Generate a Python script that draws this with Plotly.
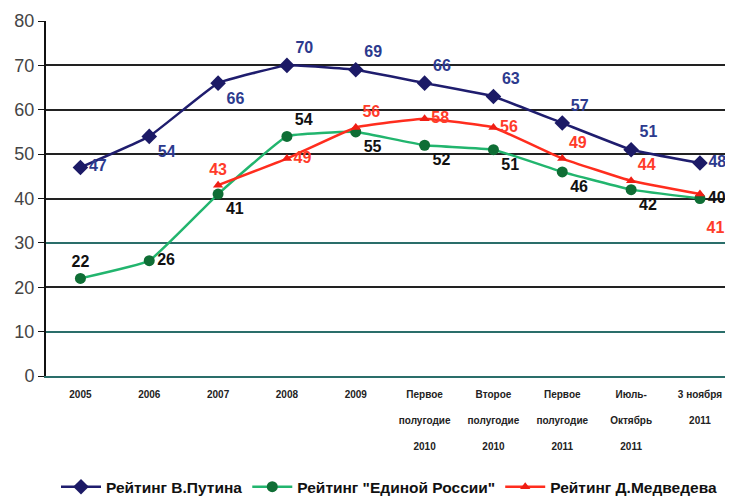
import plotly.graph_objects as go

# categories (x axis labels, multi-line ones split with spacer lines)
categories = ["2005", "2006", "2007", "2008", "2009",
              "Первое полугодие 2010", "Второе полугодие 2010",
              "Первое полугодие 2011", "Июль- Октябрь 2011", "3 ноября 2011"]
tick_labels = ["2005", "2006", "2007", "2008", "2009",
               "Первое<br><br>полугодие<br><br>2010",
               "Второе<br><br>полугодие<br><br>2010",
               "Первое<br><br>полугодие<br><br>2011",
               "Июль-<br><br>Октябрь<br><br>2011",
               "3 ноября<br><br>2011"]

putin = [47, 54, 66, 70, 69, 66, 63, 57, 51, 48]
united_russia = [22, 26, 41, 54, 55, 52, 51, 46, 42, 40]
medvedev_cats = categories[2:]
medvedev = [43, 49, 56, 58, 56, 49, 44, 41]

y_ticks = [0, 10, 20, 30, 40, 50, 60, 70, 80]
dark_grid = [20, 40, 50, 60, 70]
teal_grid = [10, 30]

# label placement per point
putin_pos = ["middle right", "bottom right", "bottom right", "top right", "top right",
             "top right", "top right", "top right", "top right", "middle right"]
ur_pos = ["top center", "middle right", "bottom right", "top right", "bottom right",
          "bottom right", "bottom right", "bottom right", "bottom right", "middle right"]
med_pos = ["top center", "middle right", "top right", "middle right", "middle right",
           "top right", "top right", "bottom right"]

label_font = dict(family="Liberation Sans, Arial", size=16)

med_text = [f"<b>{v}</b>" for v in medvedev]
med_text[-1] = "<br>" + med_text[-1]  # push last label below the "40"

fig = go.Figure()

# empty traces so the two overlay axes (used only for gridline colours) get drawn
fig.add_trace(go.Scatter(x=[], y=[], yaxis="y2", showlegend=False, hoverinfo="skip"))
fig.add_trace(go.Scatter(x=[], y=[], yaxis="y3", showlegend=False, hoverinfo="skip"))

fig.add_trace(go.Scatter(
    x=categories, y=putin, name="<b>Рейтинг В.Путина</b>",
    mode="lines+markers+text", line=dict(color="#1f1d6e", width=2.5, shape="spline", smoothing=0.3),
    marker=dict(symbol="diamond", size=12, color="#1c1a66"),
    text=[f"<b>{v}</b>" for v in putin], textposition=putin_pos,
    textfont=dict(label_font, color="#2c3a8e"), cliponaxis=False,
))
fig.add_trace(go.Scatter(
    x=categories, y=united_russia, name='<b>Рейтинг "Единой России"</b>',
    mode="lines+markers+text", line=dict(color="#22b56e", width=2.5, shape="spline", smoothing=0.3),
    marker=dict(symbol="circle", size=11, color="#0f6e35"),
    text=[f"<b>{v}</b>" for v in united_russia], textposition=ur_pos,
    textfont=dict(label_font, color="#111111"), cliponaxis=False,
))
fig.add_trace(go.Scatter(
    x=medvedev_cats, y=medvedev, name="<b>Рейтинг Д.Медведева</b>",
    mode="lines+markers+text", line=dict(color="#ff2d1e", width=2.5, shape="spline", smoothing=0.3),
    marker=dict(symbol="triangle-up", size=9, color="#f01e14"),
    text=med_text, textposition=med_pos,
    textfont=dict(label_font, color="#ff3b2a"), cliponaxis=False,
))

# page body adds an 8px offset, so the figure is a bit smaller than the window
fig.update_layout(
    width=725, height=489,
    margin=dict(l=38, r=0, t=13, b=121, autoexpand=False),
    plot_bgcolor="white", paper_bgcolor="white",
    showlegend=True,
    legend=dict(orientation="h", x=0.5, xanchor="center", y=-0.313, yanchor="middle",
                bgcolor="rgba(0,0,0,0)",
                font=dict(family="Liberation Sans Narrow, Arial Narrow, Liberation Sans", size=15.5,
                          color="#111111"),
                itemwidth=40, tracegroupgap=0),
    font=dict(family="Liberation Sans, Arial"),
    yaxis2=dict(overlaying="y", range=[0, 80], tickmode="array", tickvals=dark_grid,
                showticklabels=False, ticks="", showgrid=True, gridcolor="#222222",
                gridwidth=2, showline=False, zeroline=False),
    yaxis3=dict(overlaying="y", range=[0, 80], tickmode="array", tickvals=teal_grid,
                showticklabels=False, ticks="", showgrid=True, gridcolor="#2a6e6a",
                gridwidth=2, showline=False, zeroline=False),
)
fig.update_xaxes(
    type="category", categoryorder="array", categoryarray=categories,
    tickmode="array", tickvals=categories, ticktext=[f"<b>{t}</b>" for t in tick_labels],
    tickfont=dict(family="Liberation Sans Narrow, Arial Narrow, Liberation Sans", size=10, color="#222222"),
    tickangle=0, range=[-0.5, 9.48], showgrid=False, ticks="", ticklabelstandoff=8,
    showline=True, linecolor="#2a6e6a", linewidth=2, zeroline=False,
)
fig.update_layout(yaxis=dict(
    range=[0, 80], tickmode="array", tickvals=y_ticks, tickfont=dict(size=18, color="#444444"),
    showgrid=False,
    showline=True, linecolor="#111111", linewidth=2,
    ticks="outside", ticklen=6, tickcolor="#111111", zeroline=False,
))

fig.write_html("out.html")
